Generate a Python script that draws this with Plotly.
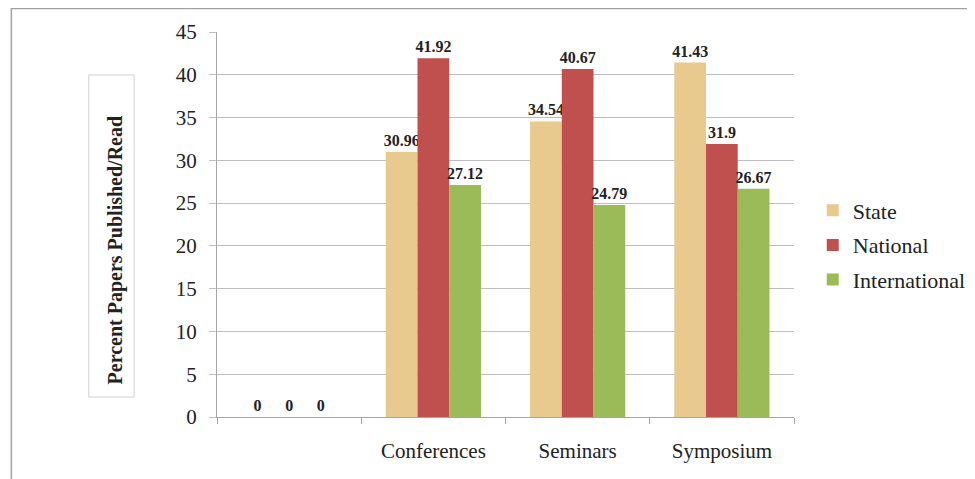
import plotly.graph_objects as go

categories = [" ", "Conferences", "Seminars", "Symposium"]
state = [0, 30.96, 34.54, 41.43]
national = [0, 41.92, 40.67, 31.9]
international = [0, 27.12, 24.79, 26.67]
series_names = ["State", "National", "International"]
colors = ["#E8C98E", "#C0504D", "#9BBB59"]
y_ticks = [0, 5, 10, 15, 20, 25, 30, 35, 40, 45]

SERIF = "Liberation Serif, Times New Roman, serif"

fig = go.Figure()
for name, vals, col in zip(series_names, [state, national, international], colors):
    fig.add_trace(go.Bar(
        x=categories, y=vals, name=name, marker=dict(color=col, line=dict(width=0)),
        text=[f"{v:g}" for v in vals], textposition="outside", cliponaxis=False,
        constraintext="none",
        textfont=dict(family=SERIF, size=16, color="#222222", weight="bold"),
        legendgroup=name,
    ))

# page offset of 8px (body margin)
OFF = 8
W, H = 975, 479
L, R, T, B = 217 - OFF, 975 - (802 - OFF), 32 - OFF, 479 - (417 - OFF)
pw, ph = W - L - R, H - T - B

def px(x):
    return (x - OFF - L) / pw

def py(y):
    return (H - B - (y - OFF)) / ph

fig.update_layout(
    width=W, height=H,
    margin=dict(l=L, r=R, t=T, b=B),
    paper_bgcolor="white", plot_bgcolor="white",
    barmode="group", bargap=0.34, bargroupgap=0,
    font=dict(family=SERIF, color="#222222"),
    showlegend=True,
    legend=dict(x=px(821), y=py(245), xanchor="left", yanchor="middle",
                font=dict(family=SERIF, size=22, color="#222222"),
                tracegroupgap=3, itemwidth=30, bgcolor="rgba(0,0,0,0)"),
    xaxis=dict(
        type="category", categoryorder="array", categoryarray=categories,
        showline=True, linecolor="#A6A6A6", linewidth=1,
        ticks="outside", tickson="boundaries", ticklen=6, tickcolor="#A6A6A6",
        tickfont=dict(family=SERIF, size=21, color="#222222"),
        ticklabelstandoff=15, showgrid=False,
    ),
    yaxis=dict(
        range=[0, 45], tickvals=y_ticks,
        showline=True, linecolor="#A6A6A6", linewidth=1,
        showgrid=True, gridcolor="#BFBFBF", gridwidth=1,
        ticks="outside", ticklen=7, tickcolor="#BFBFBF",
        tickfont=dict(family=SERIF, size=21, color="#222222"),
        ticklabelstandoff=8, zeroline=False,
    ),
    shapes=[
        dict(type="rect", xref="paper", yref="paper",
             x0=px(8.5), x1=px(1000), y0=py(520), y1=py(8.5),
             line=dict(color="#A0A0A0", width=1.5)),
        dict(type="rect", xref="paper", yref="paper",
             x0=px(87), x1=px(133), y0=py(397), y1=py(75),
             line=dict(color="#D0D0D0", width=1)),
    ],
    annotations=[
        dict(text="<b>Percent Papers Published/Read</b>", xref="paper", yref="paper",
             x=px(114), y=py(250), textangle=-90, showarrow=False,
             font=dict(family=SERIF, size=20, color="#222222"),
             xanchor="center", yanchor="middle"),
    ],
)

fig.write_html("out.html")
